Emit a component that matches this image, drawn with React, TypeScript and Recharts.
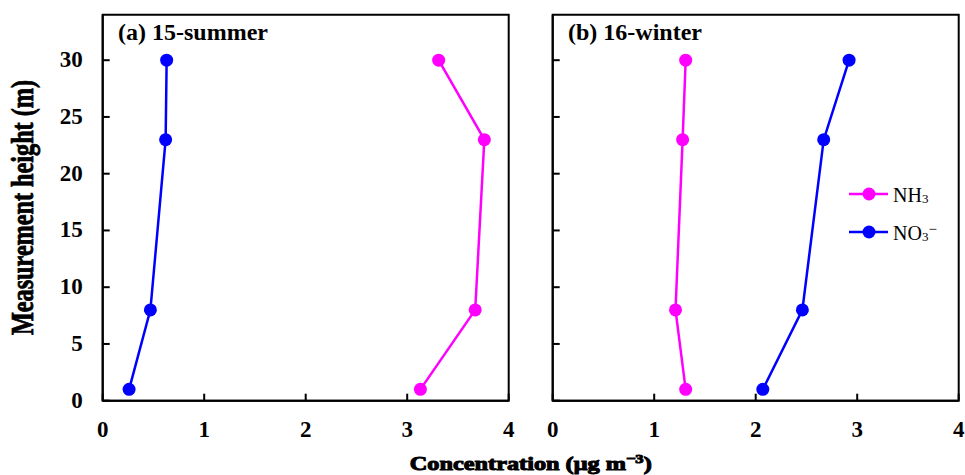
import React from 'react';
import { LineChart, Line, XAxis, YAxis, ReferenceArea, Legend } from 'recharts';

const heights = [1, 8, 23, 30];
const summerNH3 = [3.13, 3.67, 3.76, 3.31];
const summerNO3 = [0.26, 0.47, 0.62, 0.63];
const winterNH3 = [1.31, 1.21, 1.28, 1.31];
const winterNO3 = [2.07, 2.46, 2.67, 2.92];
const xTicks = [0, 1, 2, 3, 4];
const yTicks = [0, 5, 10, 15, 20, 25, 30];
const panelTitles = ['(a) 15-summer', '(b) 16-winter'];

const FONT = '"Liberation Serif", "Times New Roman", serif';
const MAGENTA = '#FF00FF';
const BLUE = '#0000FF';

const buildRows = (nh3: number[], no3: number[]) =>
  heights.map((h, i) => ({ h, nh3: nh3[i], no3: no3[i] }));

const summerData = buildRows(summerNH3, summerNO3);
const winterData = buildRows(winterNH3, winterNO3);

const XTick = (props: any) => {
  const { x, y, payload } = props;
  return (
    <g>
      <path d={`M${x},${y}V${y - 7}`} stroke="#000" strokeWidth={2} fill="none" />
      <text x={x} y={y + 36} textAnchor="middle" fontFamily={FONT} fontSize={23} fontWeight="bold" fill="#000">
        {payload.value}
      </text>
    </g>
  );
};

const makeYTick = (showLabel: boolean) => (props: any) => {
  const { x, y, payload } = props;
  return (
    <g>
      <path d={`M${x},${y}H${x + 7}`} stroke="#000" strokeWidth={2} fill="none" />
      {showLabel && (
        <text x={x - 20} y={y + 7} textAnchor="end" fontFamily={FONT} fontSize={23} fontWeight="bold" fill="#000">
          {payload.value}
        </text>
      )}
    </g>
  );
};

const LegendContent = (props: any) => {
  const payload = props.payload || [];
  return (
    <div style={{ fontFamily: FONT, fontSize: 20, color: '#000' }}>
      {payload.map((p: any, i: number) => (
        <div key={i} style={{ display: 'flex', alignItems: 'center', height: 20, marginBottom: i === 0 ? 18 : 0 }}>
          <svg width={44} height={20} style={{ display: 'block' }}>
            <line x1={0} y1={10} x2={39} y2={10} stroke={p.color} strokeWidth={2.5} />
            <circle cx={20} cy={10} r={6.5} fill={p.color} />
          </svg>
          <span style={{ lineHeight: '20px', position: 'relative', top: 2 }}>
            {p.dataKey === 'nh3' ? (
              <>NH<span style={{ fontSize: 13, position: 'relative', top: 1 }}>3</span></>
            ) : (
              <>NO<span style={{ fontSize: 13, position: 'relative', top: 1 }}>3</span><span style={{ fontSize: 15, position: 'relative', top: -6 }}>−</span></>
            )}
          </span>
        </div>
      ))}
    </div>
  );
};

const Panel = ({ data, showYTickLabels, showLegend, left, width, rightMargin }: any) => (
  <div style={{ position: 'absolute', left, top: 0 }}>
    <LineChart
      width={width}
      height={475}
      data={data}
      layout="vertical"
      margin={{ top: 14.8, right: rightMargin, left: 0, bottom: 0 }}
    >
      <XAxis
        type="number"
        domain={[0, 4]}
        ticks={xTicks}
        height={74.3}
        tickSize={0}
        tickMargin={0}
        axisLine={{ stroke: '#000', strokeWidth: 2 }}
        tickLine={false}
        tick={<XTick />}
        interval={0}
      />
      <YAxis
        type="number"
        dataKey="h"
        domain={[0, 34]}
        ticks={yTicks}
        reversed
        width={102.7}
        tickSize={0}
        tickMargin={0}
        axisLine={{ stroke: '#000', strokeWidth: 2 }}
        tickLine={false}
        tick={makeYTick(showYTickLabels)}
        interval={0}
      />
      <ReferenceArea
        x1={0}
        x2={4}
        y1={0}
        y2={34}
        fill="none"
        stroke="#000"
        strokeWidth={2}
        ifOverflow="visible"
      />
      <Line
        dataKey="nh3"
        name="NH3"
        stroke={MAGENTA}
        strokeWidth={2.5}
        dot={{ r: 6.5, fill: MAGENTA, stroke: 'none' }}
        isAnimationActive={false}
      />
      <Line
        dataKey="no3"
        name="NO3-"
        stroke={BLUE}
        strokeWidth={2.5}
        dot={{ r: 6.5, fill: BLUE, stroke: 'none' }}
        isAnimationActive={false}
      />
      {showLegend && (
        <Legend
          layout="vertical"
          align="center"
          verticalAlign="middle"
          content={<LegendContent />}
          wrapperStyle={{ left: 399, top: 184, width: 'auto', height: 'auto' }}
        />
      )}
    </LineChart>
  </div>
);

export default function App() {
  return (
    <div style={{ position: 'absolute', left: 0, top: 0, width: 965, height: 475, overflow: 'hidden', background: '#fff' }}>
      <Panel data={summerData} showYTickLabels={true} showLegend={false} left={0} width={520} rightMargin={11.3} />
      <Panel data={winterData} showYTickLabels={false} showLegend={true} left={450} width={515} rightMargin={6.3} />
      <svg width={965} height={475} style={{ position: 'absolute', left: 0, top: 0, pointerEvents: 'none' }}>
        <text x={118} y={40} fontFamily={FONT} fontSize={24} fontWeight="bold" fill="#000">{panelTitles[0]}</text>
        <text x={568} y={40} fontFamily={FONT} fontSize={24} fontWeight="bold" fill="#000">{panelTitles[1]}</text>
        <text
          x={0}
          y={0}
          transform="translate(33.3,207.5) rotate(-90)"
          textAnchor="middle"
          fontFamily={FONT}
          fontSize={31}
          fontWeight="bold"
          fill="#000"
          stroke="#000"
          strokeWidth={0.8}
          textLength={255}
          lengthAdjust="spacingAndGlyphs"
        >
          Measurement height (m)
        </text>
        <text
          x={530.8}
          y={470}
          textAnchor="middle"
          fontFamily={FONT}
          fontSize={19}
          fontWeight="bold"
          fill="#000"
          stroke="#000"
          strokeWidth={1}
          textLength={242}
          lengthAdjust="spacingAndGlyphs"
        >
          Concentration (μg m<tspan fontSize={13} dy={-7}>−3</tspan><tspan dy={7}>)</tspan>
        </text>
      </svg>
    </div>
  );
}
